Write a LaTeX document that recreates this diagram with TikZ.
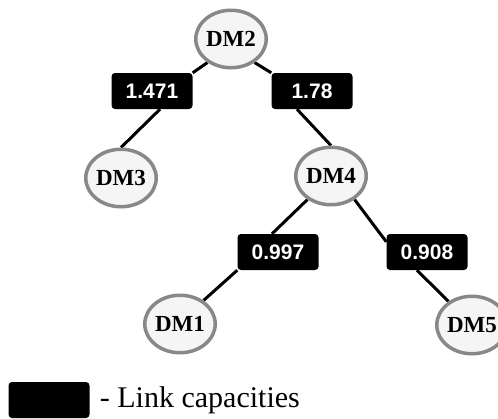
\documentclass[tikz,border=0pt]{standalone}
\usepackage{fontspec}
\setmainfont{Liberation Serif}
\newfontfamily\lblfont{Liberation Sans}
\usetikzlibrary{shapes.geometric,calc,backgrounds}
\definecolor{ringgray}{HTML}{888888}
\definecolor{dmfill}{HTML}{F5F5F5}
\tikzset{
  dm/.style={ellipse, draw=ringgray, line width=3.5pt, fill=dmfill,
    minimum width=64.5pt, minimum height=57.5pt, inner sep=0pt,
    font=\fontsize{23}{25}\selectfont\bfseries},
  capbox/.style={fill=black, rounded corners=3.5pt, text=white,
    minimum width=81pt, minimum height=36pt, inner sep=0pt,
    font=\lblfont\fontsize{21}{23}\selectfont\bfseries},
  link/.style={line width=3pt, black}
}
\begin{document}
\begin{tikzpicture}[x=1pt,y=-1pt]
\useasboundingbox (0,0) rectangle (498,418);
% tree nodes
\node[dm] (dm2) at (231,39) {DM2};
\node[dm] (dm3) at (121,178) {DM3};
\node[dm] (dm4) at (331,176) {DM4};
\node[dm] (dm1) at (180,324) {DM1};
\node[dm] (dm5) at (472,325) {DM5};
% capacity labels
\node[capbox] (c23) at (152,91) {1.471};
\node[capbox] (c24) at (312,91) {1.78};
\node[capbox] (c41) at (278,252) {0.997};
\node[capbox] (c45) at (427,252) {0.908};
% links, kept behind nodes and labels
\begin{scope}[on background layer]
\draw[link] (dm2.225) -- (c23.north east);
\draw[link] ($(c23.south)+(8,0)$) -- (dm3.north);
\draw[link] (dm2.315) -- (c24.north west);
\draw[link] ($(c24.south)+(-15,0)$) -- (dm4.north);
\draw[link] (dm4.225) -- ($(c41.north)+(-6,0)$);
\draw[link] (c41.south west) -- (dm1.45);
\draw[link] (dm4.315) -- ($(c45.north west)+(0,8)$);
\draw[link] ($(c45.south)+(-10,0)$) -- (dm5.135);
\end{scope}
% legend
\node[capbox] (key) at (49,400) {};
\node[anchor=west, inner sep=0pt, font=\fontsize{30}{32}\selectfont] (keytext)
  at ($(key.east)+(10,0)$) {- Link capacities};
\end{tikzpicture}
\end{document}
